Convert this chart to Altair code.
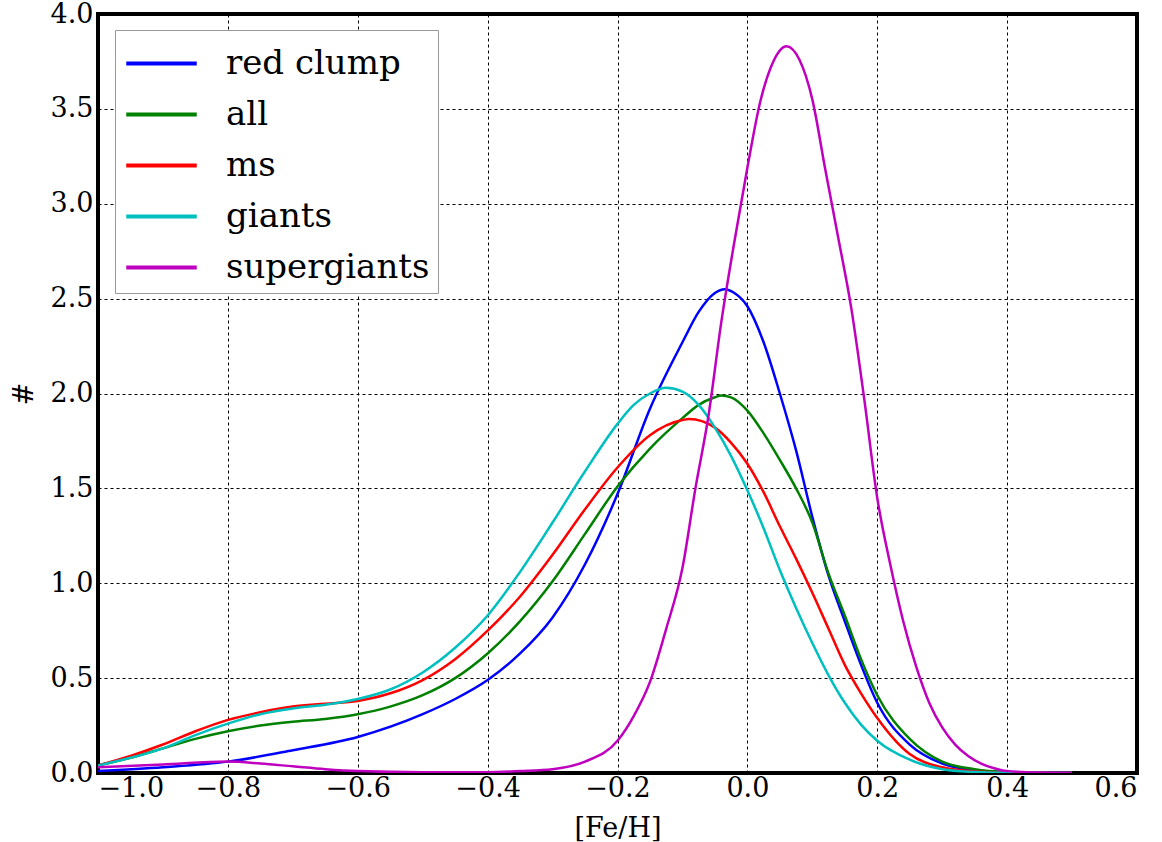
import altair as alt
import pandas as pd

# ---- data ----
series_names = ["red clump", "all", "ms", "giants", "supergiants"]
series_colors = ["#0000ff", "#008000", "#ff0000", "#00bfbf", "#bf00bf"]

rc_x = [-1.0, -0.9, -0.8, -0.7, -0.6, -0.5, -0.45, -0.4, -0.35, -0.3, -0.25, -0.2, -0.15, -0.1,
        -0.075, -0.05, -0.035, -0.02, 0.0, 0.025, 0.05, 0.075, 0.1, 0.125, 0.15, 0.175, 0.2,
        0.25, 0.3, 0.35, 0.4, 0.45, 0.5]
rc_y = [0.01, 0.03, 0.06, 0.12, 0.19, 0.31, 0.39, 0.49, 0.63, 0.82, 1.10, 1.47, 1.92, 2.27,
        2.43, 2.53, 2.55, 2.53, 2.46, 2.27, 2.00, 1.70, 1.35, 1.04, 0.80, 0.57, 0.37,
        0.15, 0.05, 0.015, 0.004, 0.001, 0.0]

all_x = [-1.0, -0.95, -0.9, -0.85, -0.8, -0.75, -0.7, -0.65, -0.6, -0.55, -0.5, -0.45, -0.4,
         -0.35, -0.3, -0.25, -0.2, -0.15, -0.1, -0.075, -0.05, -0.04, -0.025, 0.0, 0.025, 0.05,
         0.075, 0.1, 0.125, 0.15, 0.175, 0.2, 0.25, 0.3, 0.35, 0.4, 0.45, 0.5]
all_y = [0.04, 0.08, 0.13, 0.18, 0.22, 0.25, 0.27, 0.285, 0.31, 0.35, 0.41, 0.50, 0.63,
         0.80, 1.01, 1.26, 1.51, 1.71, 1.87, 1.94, 1.98, 1.99, 1.98, 1.91, 1.79, 1.65,
         1.50, 1.32, 1.05, 0.83, 0.60, 0.41, 0.18, 0.06, 0.02, 0.005, 0.001, 0.0]

ms_x = [-1.0, -0.95, -0.9, -0.85, -0.8, -0.75, -0.7, -0.65, -0.6, -0.55, -0.5, -0.45, -0.4,
        -0.35, -0.3, -0.25, -0.2, -0.15, -0.1, -0.09, -0.05, -0.025, 0.0, 0.025, 0.05, 0.075,
        0.1, 0.125, 0.15, 0.175, 0.2, 0.25, 0.3, 0.35, 0.4, 0.45, 0.5]
ms_y = [0.04, 0.09, 0.15, 0.22, 0.28, 0.32, 0.35, 0.365, 0.38, 0.42, 0.49, 0.60, 0.75,
        0.93, 1.15, 1.39, 1.61, 1.78, 1.86, 1.865, 1.82, 1.74, 1.63, 1.48, 1.30, 1.13,
        0.95, 0.76, 0.57, 0.42, 0.29, 0.10, 0.03, 0.008, 0.002, 0.0, 0.0]

gi_x = [-1.0, -0.95, -0.9, -0.85, -0.8, -0.75, -0.7, -0.65, -0.6, -0.55, -0.5, -0.45, -0.4,
        -0.35, -0.3, -0.25, -0.2, -0.175, -0.15, -0.125, -0.1, -0.075, -0.05, -0.025, 0.0,
        0.025, 0.05, 0.075, 0.1, 0.125, 0.15, 0.175, 0.2, 0.25, 0.3, 0.35, 0.4, 0.45, 0.5]
gi_y = [0.04, 0.08, 0.13, 0.20, 0.26, 0.31, 0.34, 0.36, 0.39, 0.44, 0.53, 0.66, 0.83,
        1.06, 1.32, 1.59, 1.84, 1.94, 2.00, 2.03, 2.01, 1.94, 1.82, 1.67, 1.49,
        1.29, 1.07, 0.87, 0.685, 0.515, 0.37, 0.255, 0.17, 0.07, 0.02, 0.005, 0.001, 0.0, 0.0]

sg_x = [-1.0, -0.9, -0.8, -0.75, -0.7, -0.65, -0.6, -0.5, -0.4, -0.35, -0.3, -0.25, -0.2,
        -0.175, -0.15, -0.125, -0.1, -0.08, -0.06, -0.04, -0.02, 0.0, 0.02, 0.04, 0.06, 0.08,
        0.1, 0.12, 0.14, 0.16, 0.18, 0.2, 0.22, 0.24, 0.26, 0.28, 0.3, 0.32, 0.34, 0.36,
        0.38, 0.4, 0.45, 0.5]
sg_y = [0.03, 0.045, 0.06, 0.05, 0.035, 0.02, 0.01, 0.004, 0.004, 0.01, 0.02, 0.06, 0.17,
        0.30, 0.48, 0.76, 1.08, 1.50, 1.88, 2.38, 2.80, 3.19, 3.54, 3.75, 3.83, 3.76,
        3.55, 3.18, 2.82, 2.45, 1.97, 1.45, 1.10, 0.80, 0.56, 0.37, 0.24, 0.15, 0.09, 0.05,
        0.025, 0.01, 0.002, 0.0]

x_ticks = [-1.0, -0.8, -0.6, -0.4, -0.2, 0.0, 0.2, 0.4, 0.6]
y_ticks = [0.0, 0.5, 1.0, 1.5, 2.0, 2.5, 3.0, 3.5, 4.0]

rows = []
for name, xs, ys in zip(series_names,
                        [rc_x, all_x, ms_x, gi_x, sg_x],
                        [rc_y, all_y, ms_y, gi_y, sg_y]):
    for i, (xv, yv) in enumerate(zip(xs, ys)):
        rows.append({"series": name, "feh": xv, "val": yv, "idx": i})
df = pd.DataFrame(rows)

FONT = "DejaVu Serif"

chart = alt.Chart(df).mark_line(strokeWidth=2.5, interpolate="monotone", clip=True).encode(
    x=alt.X("feh:Q", scale=alt.Scale(domain=[-1.0, 0.6], nice=False, zero=False),
            axis=alt.Axis(title="[Fe/H]", values=x_ticks, format=".1f",
                          labelPadding=2, titlePadding=14)),
    y=alt.Y("val:Q", scale=alt.Scale(domain=[0, 4.0], nice=False),
            axis=alt.Axis(title="#", values=y_ticks, format=".1f", titleAngle=270)),
    color=alt.Color("series:N",
                    scale=alt.Scale(domain=series_names, range=series_colors),
                    legend=alt.Legend(orient="none", legendX=17, legendY=16, title=None,
                                      symbolType="M-1.5,0L1.5,0", symbolSize=2209,
                                      symbolStrokeWidth=4, symbolOffset=13,
                                      labelFontSize=34,
                                      labelFont=FONT, labelLimit=400, labelOffset=39,
                                      padding=8, rowPadding=8,
                                      strokeColor="#999999", fillColor="white",
                                      cornerRadius=0)),
    order="idx:Q",
).properties(
    width=1039, height=759,
    background="white",
    autosize=alt.AutoSizeParams(type="none"),
    padding={"left": 98, "top": 14, "right": 25, "bottom": 69},
).configure_view(
    stroke="black", strokeWidth=4
).configure_axis(
    domain=False, ticks=False,
    grid=True, gridColor="black", gridDash=[3, 3], gridWidth=1, gridOpacity=1,
    labelFont=FONT, labelFontSize=27, labelColor="black", labelPadding=5,
    titleFont=FONT, titleFontSize=27, titleFontWeight="normal", titleColor="black",
    titlePadding=12,
)

chart.save("out.html", embed_options={"renderer": "svg", "actions": False})
